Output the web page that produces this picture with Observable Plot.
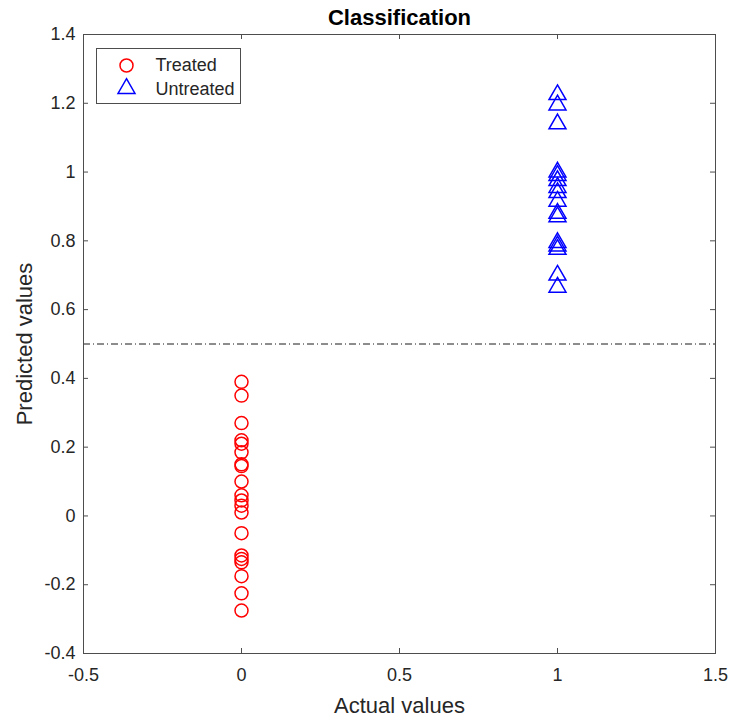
<!DOCTYPE html>
<html>
<head>
<meta charset="utf-8">
<script src="https://cdn.jsdelivr.net/npm/d3@7"></script>
<script src="https://cdn.jsdelivr.net/npm/@observablehq/plot@0.6"></script>
<style>
  html, body { margin: 0; padding: 0; background: #fff; }
  #chart { width: 733px; height: 721px; }
</style>
</head>
<body>
<div id="chart"></div>
<script>
// Predicted values for each group (actual value 0 = treated, 1 = untreated)
const treatedPred = [0.39, 0.35, 0.27, 0.22, 0.21, 0.185, 0.15, 0.145, 0.10, 0.06,
                     0.045, 0.03, 0.01, -0.05, -0.115, -0.125, -0.135, -0.175, -0.225, -0.275];
const untreatedPred = [1.225, 1.195, 1.14, 1.0, 0.99, 0.975, 0.955, 0.94, 0.915, 0.88,
                       0.87, 0.795, 0.785, 0.775, 0.70, 0.665];
const treatedActual = 0;
const untreatedActual = 1;
const threshold = 0.5;

const xTicks = [-0.5, 0, 0.5, 1, 1.5];
const yTicks = [-0.4, -0.2, 0, 0.2, 0.4, 0.6, 0.8, 1, 1.2, 1.4];
const legendLabels = ["Treated", "Untreated"];

const W = 733, H = 721;
const mL = 83, mR = 18, mT = 34, mB = 68;
const innerW = W - mL - mR, innerH = H - mT - mB;
const axisColor = "#4d4d4d";
const textColor = "#262626";
const fmt = d => String(d);

const chart = Plot.plot({
  width: W,
  height: H,
  marginLeft: mL,
  marginRight: mR,
  marginTop: mT,
  marginBottom: mB,
  style: {
    fontFamily: "'Liberation Sans', Arial, Helvetica, sans-serif",
    fontSize: "18px",
    color: textColor,
    background: "#fff",
    overflow: "visible"
  },
  x: { domain: [-0.5, 1.5] },
  y: { domain: [-0.4, 1.4] },
  marks: [
    // decision threshold
    Plot.ruleY([threshold], { stroke: "#1a1a1a", strokeWidth: 1, strokeDasharray: "7,3,1,3" }),
    // inward ticks on all four sides
    Plot.tickX(xTicks, { x: d => d, insetTop: innerH - 5, stroke: axisColor }),
    Plot.tickX(xTicks, { x: d => d, insetBottom: innerH - 5, stroke: axisColor }),
    Plot.tickY(yTicks, { y: d => d, insetRight: innerW - 5, stroke: axisColor }),
    Plot.tickY(yTicks, { y: d => d, insetLeft: innerW - 5, stroke: axisColor }),
    Plot.frame({ stroke: axisColor, strokeWidth: 1 }),
    Plot.axisX({ ticks: xTicks, tickSize: 0, tickPadding: 15, tickFormat: fmt, label: null, fontSize: 18 }),
    Plot.axisY({ ticks: yTicks, tickSize: 0, tickPadding: 8, tickFormat: fmt, label: null, fontSize: 18 }),
    // data
    Plot.dot(treatedPred, { x: () => treatedActual, y: d => d, symbol: "circle", r: 6.5,
                            fill: "none", stroke: "#f00", strokeWidth: 1.5 }),
    Plot.dot(untreatedPred, { x: () => untreatedActual, y: d => d, symbol: "triangle", r: 6.3,
                              fill: "none", stroke: "#00f", strokeWidth: 1.5 }),
    // legend
    Plot.frame({ fill: "#fff", stroke: axisColor, insetLeft: 13, insetTop: 14,
                 insetRight: innerW - 157, insetBottom: innerH - 69 }),
    Plot.dot([legendLabels[0]], { frameAnchor: "top-left", dx: 43, dy: 31, symbol: "circle", r: 6.5,
                                  fill: "none", stroke: "#f00", strokeWidth: 1.5 }),
    Plot.dot([legendLabels[1]], { frameAnchor: "top-left", dx: 43, dy: 54, symbol: "triangle", r: 6.3,
                                  fill: "none", stroke: "#00f", strokeWidth: 1.5 }),
    Plot.text([legendLabels[0]], { text: d => d, frameAnchor: "top-left", lineAnchor: "middle",
                                   dx: 72, dy: 31, textAnchor: "start", fontSize: 18, fill: textColor }),
    Plot.text([legendLabels[1]], { text: d => d, frameAnchor: "top-left", lineAnchor: "middle",
                                   dx: 72, dy: 55, textAnchor: "start", fontSize: 18, fill: textColor }),
    // title and axis labels
    Plot.text(["Classification"], { text: d => d, frameAnchor: "top", lineAnchor: "middle", dy: -17,
                                    fontWeight: "bold", fontSize: 22, fill: "#000" }),
    Plot.text(["Actual values"], { text: d => d, frameAnchor: "bottom", lineAnchor: "middle", dy: 52,
                                   fontSize: 22, fill: textColor }),
    Plot.text(["Predicted values"], { text: d => d, frameAnchor: "left", lineAnchor: "middle",
                                      textAnchor: "middle", dx: -59, rotate: -90,
                                      fontSize: 22, fill: textColor })
  ]
});

document.getElementById("chart").appendChild(chart);
</script>
</body>
</html>
